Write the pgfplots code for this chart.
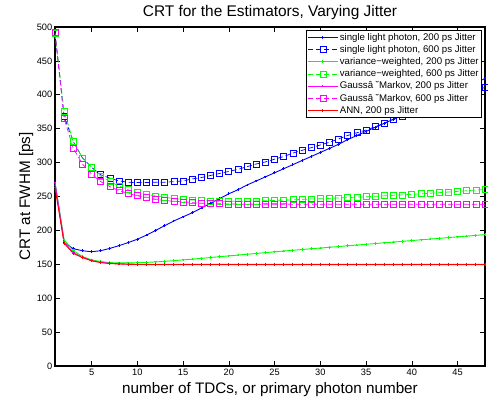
\documentclass[border=0pt]{standalone}
\usepackage{pgfplots}
\pgfplotsset{compat=1.18}
\usepackage{fontspec}
\setmainfont{Liberation Sans}

\definecolor{mblue}{rgb}{0,0,1}
\definecolor{mgreen}{rgb}{0,1,0}
\definecolor{mmag}{rgb}{1,0,1}
\definecolor{mred}{rgb}{1,0,0}

\begin{document}
\begin{tikzpicture}
\begin{axis}[
    at={(55bp,34bp)}, anchor=south west,
    scale only axis,
    width=430bp, height=339bp,
    xmin=1, xmax=48, ymin=0, ymax=500,
    xtick={5,10,...,45},
    ytick={0,50,...,500},
    tick align=inside,
    major tick length=5bp,
    axis line style={line width=1.1bp},
    every tick/.style={black, line width=0.6bp},
    /pgf/number format/assume math mode=true,
    tick label style={font=\fontsize{9.3}{10}\selectfont},
    xticklabel style={inner sep=1bp, yshift=-2bp},
    yticklabel style={inner sep=1bp, xshift=-1.5bp},
    title={CRT for the Estimators, Varying Jitter},
    every axis title shift=0pt,
    title style={font=\fontsize{15.5}{17}\selectfont, at={(axis description cs:0.5,1.031)}, anchor=base, yshift=0pt},
    xlabel={number of TDCs, or primary photon number},
    ylabel={CRT at FWHM [ps]},
    label style={font=\fontsize{15.3}{17}\selectfont},
    xlabel style={at={(axis description cs:0.5,-0.0826)}, anchor=base},
    ylabel style={at={(axis description cs:-0.058,0.5)}, anchor=base},
    legend cell align=left,
    legend style={font=\fontsize{9.7}{11}\selectfont, draw=black, fill=white, line width=0.6bp,
        at={(0.993,0.991)}, anchor=north east, inner sep=1.5bp, row sep=0.6bp,
        nodes={inner sep=1.5bp}},
    legend image code/.code={%
        \draw[mark repeat=2,mark phase=2,#1] plot coordinates {(0cm,0cm) (0.53cm,0cm) (1.06cm,0cm)};},
    solidser/.style={draw=#1, color=#1, line width=0.9bp, mark=+, mark size=1.3bp,
        mark options={draw=#1, solid}},
    dashser/.style={draw=#1, color=#1, line width=0.7bp, dash pattern=on 5bp off 3bp,
        mark=square, mark size=3bp, mark options={draw=#1, solid, line width=0.7bp}},
]
% single light photon, 200 ps
\addplot[solidser=mblue] coordinates {
(1,270) (2,182) (3,173) (4,170) (5,168.5) (6,170) (7,173.5) (8,177.5) (9,182) (10,187)
(11,193) (12,200) (13,207) (14,214) (15,220) (16,226) (17,233) (18,240) (19,247) (20,254)
(21,260) (22,267) (23,273) (24,279) (25,285) (26,291) (27,297) (28,303) (29,309) (30,315)
(31,321) (32,327) (33,334) (34,340) (35,346) (36,352) (37,358) (38,364) (39,370) (40,376)
(41,382) (42,388) (43,394) (44,400) (45,406) (46,412) (47,418) (48,424)};
\addlegendentry{single light photon, 200 ps Jitter}
% single light photon, 600 ps
\addplot[dashser=mblue] coordinates {
(1,492) (2,368) (3,331) (4,307) (5,293) (6,282) (7,277) (8,273) (9,271) (10,270.5)
(11,270.5) (12,271) (13,271) (14,272) (15,273) (16,276) (17,278) (18,281) (19,284) (20,287)
(21,290) (22,294) (23,298) (24,301) (25,305) (26,309) (27,314) (28,318) (29,322) (30,326)
(31,330) (32,335) (33,340) (34,344) (35,348) (36,353) (37,358) (38,364) (39,368) (40,373)
(41,378) (42,383) (43,387) (44,392) (45,397) (46,401) (47,406) (48,411)};
\addlegendentry{single light photon, 600 ps Jitter}
% variance-weighted, 200 ps
\addplot[solidser=mgreen] coordinates {
(1,270) (2,186) (3,170) (4,161.5) (5,156.5) (6,154) (7,152.5) (8,152) (9,152) (10,152.3)
(11,152.8) (12,153.5) (13,154.4) (14,155.4) (15,156.5) (16,157.6) (17,158.8) (18,160) (19,161.2) (20,162.4)
(21,163.6) (22,164.8) (23,166) (24,167.2) (25,168.4) (26,169.6) (27,170.7) (28,171.8) (29,172.9) (30,174)
(31,175.1) (32,176.2) (33,177.3) (34,178.4) (35,179.5) (36,180.6) (37,181.7) (38,182.8) (39,183.9) (40,185)
(41,186.1) (42,187.2) (43,188.3) (44,189.4) (45,190.5) (46,191.6) (47,192.7) (48,193.8)};
\addlegendentry{variance−weighted, 200 ps Jitter}
% variance-weighted, 600 ps
\addplot[dashser=mgreen] coordinates {
(1,490) (2,375) (3,331) (4,307) (5,293) (6,280) (7,272) (8,265.5) (9,260) (10,256)
(11,253) (12,250.7) (13,248.7) (14,247) (15,245.7) (16,244.8) (17,244) (18,243.5) (19,243) (20,243)
(21,243) (22,243) (23,243.3) (24,243.7) (25,244.2) (26,244.7) (27,245.2) (28,245.7) (29,246.2) (30,246.7)
(31,247.2) (32,247.8) (33,248.4) (34,249) (35,249.6) (36,250.3) (37,251) (38,251.7) (39,252.4) (40,253.2)
(41,254) (42,254.8) (43,255.7) (44,256.6) (45,257.5) (46,258.5) (47,259.5) (48,260.5)};
\addlegendentry{variance−weighted, 600 ps Jitter}
% Gauss-Markov, 200 ps
\addplot[solidser=mmag] coordinates {
(1,270) (2,183) (3,167) (4,160.5) (5,155.5) (6,153) (7,151.5) (8,150.8) (9,150.3) (10,150)
(11,150) (12,150) (13,150) (14,150) (15,150) (16,150) (17,150) (18,150) (19,150) (20,150)
(21,150) (22,150) (23,150) (24,150) (25,150) (26,150) (27,150) (28,150) (29,150) (30,150)
(31,150) (32,150) (33,150) (34,150) (35,150) (36,150) (37,150) (38,150) (39,150) (40,150)
(41,150) (42,150) (43,150) (44,150) (45,150) (46,150) (47,150) (48,150)};
\addlegendentry{Gaussâ ˘Markov, 200 ps Jitter}
% Gauss-Markov, 600 ps
\addplot[dashser=mmag] coordinates {
(1,492) (2,365) (3,321) (4,298) (5,283) (6,272) (7,264.5) (8,258.6) (9,254.6) (10,251)
(11,248.7) (12,246) (13,244) (14,243) (15,242) (16,241) (17,240) (18,239.6) (19,239.2) (20,239)
(21,238.8) (22,238.5) (23,238.5) (24,238.5) (25,238.5) (26,238.5) (27,238.5) (28,238.5) (29,238.5) (30,238.5)
(31,238.5) (32,238.5) (33,238.5) (34,238.5) (35,238.5) (36,238.5) (37,238.5) (38,238.5) (39,238.5) (40,238.5)
(41,238.5) (42,238.5) (43,238.5) (44,238.5) (45,238.5) (46,238.5) (47,238.5) (48,238.5)};
\addlegendentry{Gaussâ ˘Markov, 600 ps Jitter}
% ANN, 200 ps
\addplot[solidser=mred] coordinates {
(1,263) (2,181) (3,166) (4,160) (5,155) (6,152.5) (7,151) (8,150.5) (9,150) (10,149.7)
(11,149.6) (12,149.5) (13,149.5) (14,149.5) (15,149.5) (16,149.5) (17,149.5) (18,149.5) (19,149.5) (20,149.5)
(21,149.5) (22,149.5) (23,149.5) (24,149.5) (25,149.5) (26,149.5) (27,149.5) (28,149.5) (29,149.5) (30,149.5)
(31,149.5) (32,149.5) (33,149.5) (34,149.5) (35,149.5) (36,149.5) (37,149.5) (38,149.5) (39,149.5) (40,149.5)
(41,149.5) (42,149.5) (43,149.5) (44,149.5) (45,149.5) (46,149.5) (47,149.5) (48,149.5)};
\addlegendentry{ANN, 200 ps Jitter}
\end{axis}
\pgfresetboundingbox
\useasboundingbox (0,0) rectangle (488bp,400bp);
\end{tikzpicture}
\end{document}
